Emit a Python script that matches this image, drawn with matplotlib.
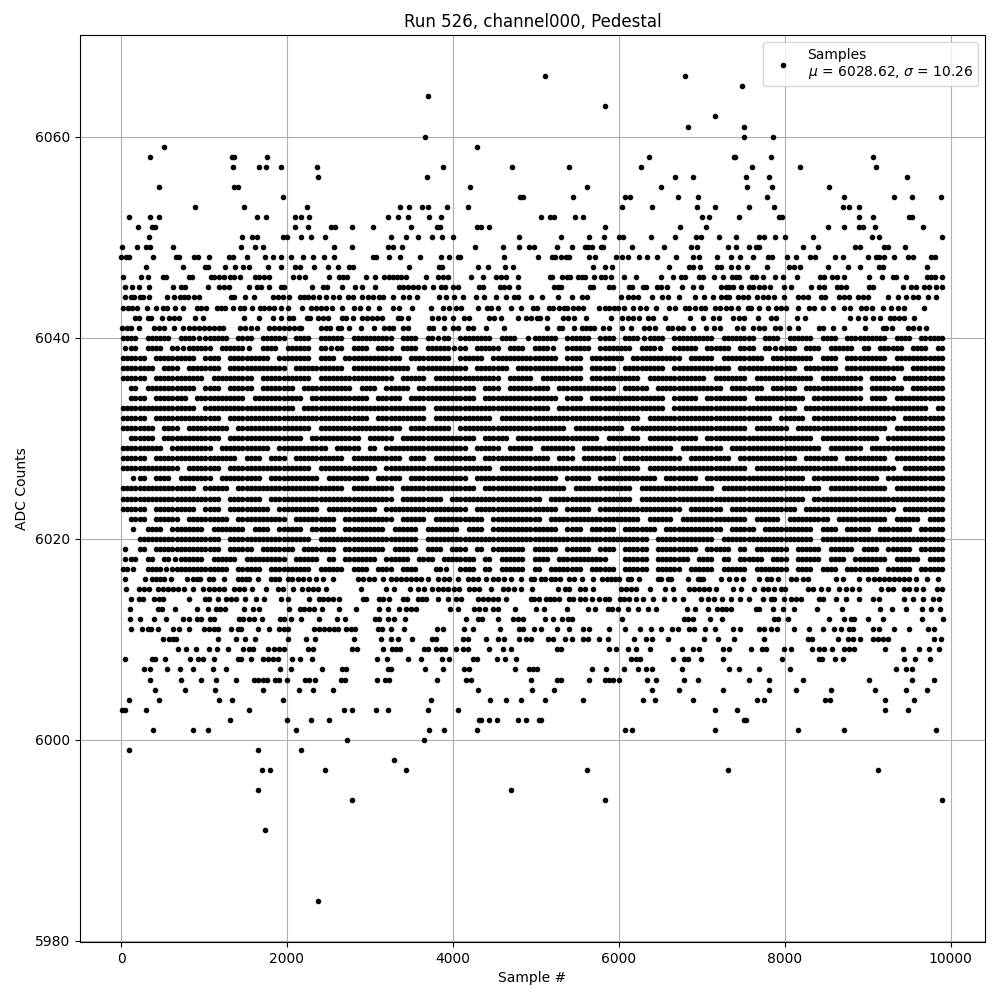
import matplotlib
matplotlib.use("Agg")
import matplotlib.pyplot as plt

# Dense levels: hand-read occupancy over 100 bins across the sample range.
# '#' = busy bin, '+' = single point, '.' = empty.
BIN_WIDTH = 99.2
level_rows = {
    6040: "##.###.##+ ###.##.### .##.###.## ###.##.#+# .####.##.+ ###.###.## .##+##.### ##.####.## .###.##.## ###.##.###",
    6039: "+#.##.#+## #.###+.##. ###.#+#.## .##.##.### +#.###.##. ##+.###.## ##.##+.### .###.##.#+ ##.##.###. #.###.##.#",
    6038: "###.#####. ##.#####.# ###.##.### ####.##### .###.##### ###.##.### #.######.# ##.#####.# ####.##.## ###.######",
    6037: "####.##.## ##.####### .######.## #####.#### ##.####.## ######.### .#####.### ####.##### ##.####.## #####.####",
    6036: "###.###### .#####.### ###.###### ###.###.## ######.### .#####.### ###.###### #.####.### ####.##### .###.#####",
    6035: ".#.######. ##.###.### #.######.# #.###.#### ###.##.### ##.####### .###.##### ###.####.# ##.####### .####.####",
    6034: ".##.####.# #####.#### ##.####### .###.##### ###.###### ###.##.### ######.### .#####.### ###.###### .##.######",
    6033: "#########. ########## #.######## #######.## ########## ##.####### ######.### ########## ##.####### ########.#",
    6032: "###.###### ##.####### ########## .######.## #####.#### ########## ###.###### #########. ###.###### ####.#####",
    6031: "####.##.## ###.###### ###.###### ####.##### .######### ####.##### #.######## ######.### #.######## ###.######",
    6030: ".###.##### ##.####### ##.######. ###.###### ###.###.## ########.# ###.###### .######### ####.##### ##.#######",
    6029: "#####.#### #.######.# #####.###. #.######## ##.###.### .####.#### #######.## ###.###### #####.#### .#########",
    6028: "###.###### ####.##.## .######.## ####.##.## ###.###### ##.##.#### .#######.# ####.##### ##.####.## ###.######",
    6027: "#######.## ##.####### ###.###### #.######## #####.#### ########## ###.###### ######.### ########## ####.#####",
    6026: ".+#.##.### #.#####.## ####.##### .###.##### ##.####### ###.###.## #####.#### .######### ###.###### ##.#######",
    6025: "#########. ###.###### #######.## ###.###### ###.###### ####.##### ##.####### ##.####### #####.#### ###.######",
    6024: "########## ##.####.## ########## ###.#####. ########## #.######## ##.####### ########## ###.###### ##########",
    6023: "###.#####. ##.#####.# ####.##### #.######## ##.####### ###.###.## ########.# ###.###### ##.####### ####.#####",
    6022: ".##.###.## ###.###### .#####.### ###.###.## ####.##### #.######## ###.###.## ######.### .#####.### ###.###.##",
    6021: ".+.##.#### .####.##.# ##.###.### ##.###.### #.##.##### ###.##.### .####.#### ###.###.## ####.##.## #.####.###",
    6020: "..######## ##.####### ###.###### ######.### ########## ########## ####.##### ##.####### ####.##### ##########",
    6019: "+.#.###### ##.###.### #.####.### ##.###.##. ##.#.####. ###.###.## .###.##### .###.#.### #.###.###. ##.###.###",
    6018: "+#.#.#+### .###.##### .###.#.### #.###.##.# ###.#.###. ##.######. .###.####. ##.#.###.# #.###.##.# ###.###.##",
    6017: "#+.##+#### ###.###.## ###.###.## .##.##..#+ .##.#.###. #.####.### .###.###.# ##.###.### #.##.##.## ##.###.###",
}

# Sparse levels, samples: level -> sample numbers
upper_levels = {
    6066: [5115, 6800],
    6065: [7480],
    6064: [3700],
    6063: [5840],
    6062: [7165],
    6061: [6830, 7515],
    6060: [3665, 7515, 7865],
    6059: [520, 4295],
    6058: [350, 1340, 1360, 1760, 6360, 7385, 7405, 7830, 9060],
    6057: [1350, 1665, 1750, 1930, 2365, 3885, 4715, 5400, 6270, 7610, 8180, 9105],
    6056: [2370, 3690, 6680, 6900, 7530, 7815, 9480],
    6055: [460, 1365, 1410, 4210, 5620, 6510, 7550, 7850, 8530],
    6054: [1950, 4815, 4850, 5450, 6070, 6140, 6720, 6950, 7790, 8720, 9320, 9540, 9890],
    6053: [888, 1479, 2238, 3359, 3467, 3624, 3696, 3925, 4178, 6036, 6398, 6940, 7157, 7566, 7868, 8699, 8771, 8900],
    6052: [93, 346, 455, 1636, 1744, 2102, 2166, 2262, 3214, 3335, 3455, 3708, 3853, 5061, 5173, 5225, 5470, 5567,
           7000, 7085, 7446, 7936, 7968, 8892, 9060, 9494, 9534],
    6051: [201, 374, 406, 2102, 2250, 2531, 2580, 2780, 3033, 3491, 3805, 3845, 4295, 4343, 4439,
           5832, 6739, 7052, 8518, 8711, 8900, 8940, 9084, 9663],
    6050: [334, 1455, 1579, 1644, 1949, 1997, 2166, 2286, 2455, 3250, 3431, 3580, 3744, 3865, 3997, 4793,
           5302, 5639, 5820, 6000, 6048, 6386, 6675, 6932, 6992, 7213, 7410, 7695, 7755, 7888, 8000, 8338, 9048, 9133, 9892],
    6049: [9, 189, 302, 350, 623, 1443, 1611, 1708, 2563, 2780, 3214, 3274, 3387, 4267, 4600, 4793, 4913,
           4976, 5253, 5434, 5587, 5627, 5679, 5787, 5808, 6157, 6542, 6868, 6940, 7313, 7410, 7566, 7655, 7695,
           8217, 8398, 8844, 8908, 9201, 9241, 9450],
    6048: [0, 61, 101, 382, 663, 696, 884, 925, 1057, 1298, 1354, 1515, 1732, 1828, 1925, 2045, 2190, 2310, 2443, 2563,
           3033, 3074, 3234, 3359, 3600, 3853, 3949, 4062, 4086, 4616, 5024, 5197, 5237, 5306, 5358, 5406, 5639, 5719,
           5968, 6040, 6109, 6241, 6338, 6458, 6691, 6892, 6964, 7181, 7350, 7462, 7615, 7795, 7848, 8024, 8137, 8305,
           8366, 8611, 8699, 9000, 9101, 9141, 9201, 9322, 9482, 9542, 9763, 9815],
    6047: [298, 744, 1013, 1049, 1250, 1370, 1467, 1539, 1772, 1933, 2093, 2158, 2322, 2491, 2612, 2744, 2792, 3467,
           3829, 3869, 4299, 4423, 4624, 4721, 5687, 5840, 5916, 6611, 6852, 6900, 6980, 7181, 7233, 7350, 7434, 7542,
           7783, 8056, 8117, 8185, 8518, 8759, 8912, 9141, 9189, 9711],
    6046: [21, 238, 322, 503, 543, 816, 856, 1085, 1125, 1186, 1238, 1314, 1366, 1435, 1615, 1668, 1728, 1788, 2069,
           2142, 2214, 2503, 2632, 2672, 2720, 2953, 3062, 3174, 3226, 3274, 3323, 3375, 3435, 3676, 3817, 3877, 3937,
           4218, 4367, 4519, 4580, 4640, 4781, 5165, 5197, 5314, 5374, 5414, 5506, 5559, 5587, 5707, 5787, 5840, 5908,
           6061, 6205, 6506, 6659, 6751, 6804, 6972, 7012, 7153, 7253, 7362, 7414, 7454, 7607, 7655, 7735, 7888, 7976,
           8145, 8426, 8478, 8567, 8627, 8719, 9012, 9173, 9301, 9341, 9461, 9711, 9763, 9815, 9892],
    6045: [45, 133, 213, 334, 623, 724, 772, 1045, 1186, 1246, 1306, 1539, 1636, 1692, 1780, 1933, 1969, 2298, 2431,
           2479, 2660, 2825, 2901, 3062, 3347, 3403, 3463, 3523, 3576, 3656, 3757, 3857, 3909, 3997, 4062, 4311, 4359,
           4568, 4620, 4680, 4785, 5225, 5265, 5306, 5655, 5695, 5888, 5936, 6121, 6161, 6289, 6330, 6458, 6510, 6579,
           6759, 6892, 6992, 7233, 7293, 7334, 7382, 7474, 7575, 7623, 7695, 7755, 7824, 7996, 8077, 8317, 8410, 8478,
           8627, 8679, 8739, 9012, 9060, 9422, 9522, 9582, 9675, 9743, 9824, 9896],
    6044: [45, 121, 161, 229, 270, 342, 551, 643, 712, 764, 808, 884, 937, 1326, 1366, 1499, 1599, 1828, 1889, 1949,
           2029, 2158, 2210, 2258, 2318, 2391, 2471, 2559, 2624, 2732, 2792, 2901, 2973, 3033, 3106, 3154, 3274, 3395,
           3467, 3564, 3829, 3917, 4018, 4126, 4279, 4379, 4519, 4640, 4741, 4781, 4936, 5073, 5265, 5434, 5559, 5615,
           6028, 6109, 6169, 6229, 6398, 6522, 6599, 6731, 6924, 7024, 7133, 7233, 7293, 7334, 7434, 7494, 7555, 7663,
           7735, 7795, 7876, 7988, 8157, 8217, 8277, 8438, 8490, 8659, 8719, 8779, 8880, 8940, 9000, 9241, 9362, 9462,
           9542, 9602, 9723, 9824],
    6043: [29, 81, 133, 189, 310, 422, 511, 551, 655, 744, 912, 965, 1025, 1153, 1206, 1258, 1346, 1435, 1487, 1579,
           1676, 1728, 1788, 1848, 1929, 2009, 2178, 2290, 2351, 2411, 2471, 2543, 2664, 2812, 2881, 2973, 3106, 3274,
           3355, 3508, 3736, 3877, 3949, 4038, 4098, 4299, 4407, 4459, 4540, 4700, 4821, 4964, 5012, 5157, 5213, 5277,
           5334, 5374, 5446, 5506, 5567, 5767, 5828, 5888, 5948, 5988, 6069, 6169, 6257, 6330, 6450, 6611, 6683, 6804,
           6852, 6924, 6992, 7044, 7165, 7221, 7293, 7354, 7434, 7555, 7595, 7695, 7795, 7896, 7956, 8016, 8157, 8297,
           8358, 8458, 8579, 8719, 8787, 8920, 8980, 9052, 9181, 9281, 9362, 9442, 9675],
    6042: [173, 214, 322, 362, 495, 583, 643, 704, 896, 985, 1479, 1660, 1836, 1929, 2029, 2077, 2238, 2278, 2371,
           2431, 2491, 2660, 2712, 2792, 2901, 2961, 3025, 3082, 3146, 3335, 3375, 3455, 3749, 3817, 3897, 3997, 4130,
           4191, 4439, 4499, 4580, 4781, 4882, 4936, 5012, 5052, 5133, 5326, 5386, 5466, 5599, 5908, 6040, 6109, 6177,
           6249, 6350, 6410, 6563, 6860, 7012, 7141, 7205, 7382, 7454, 7514, 7675, 7836, 7896, 8145, 8249, 8787, 8880,
           8973, 9060, 9149, 9269, 9321, 9382, 9442, 9563],
    6041: [13, 69, 121, 221, 402, 463, 523, 643, 752, 824, 884, 945, 1005, 1065, 1125, 1186, 1234, 1435, 1499, 1567,
           1636, 1788, 1848, 1909, 1969, 2029, 2089, 2150, 2170, 2411, 2471, 2519, 2612, 2652, 2752, 2893, 3054, 3174,
           3226, 3282, 3395, 3455, 3716, 3757, 3897, 3997, 4058, 4179, 4239, 4399, 4620, 5133, 5277, 5318, 5466, 5559,
           5607, 5655, 5707, 5815, 5880, 6040, 6149, 6310, 6362, 6442, 6591, 6643, 6711, 6779, 6892, 7052, 7153, 7221,
           7422, 7494, 7623, 7695, 7755, 7888, 7944, 8056, 8157, 8418, 8458, 8579, 8719, 8973, 9181, 9221, 9293, 9482,
           9542, 9623, 9703],
}

lower_levels = {
    6016: [45, 294, 374, 422, 471, 523, 603, 792, 864, 912, 953, 1057, 1105, 1246, 1407, 1459, 1507, 1547, 1648, 1808,
           1860, 1909, 2009, 2061, 2130, 2190, 2262, 2351, 2431, 2559, 2853, 2913, 2993, 3054, 3154, 3254, 3315, 3375,
           3435, 3496, 3556, 3616, 3696, 3817, 3897, 3957, 4058, 4179, 4239, 4299, 4399, 4480, 4540, 4620, 4700, 4821,
           4944, 4984, 5065, 5105, 5185, 5237, 5293, 5398, 5466, 5559, 5695, 5799, 5856, 5908, 5960, 6000, 6109, 6149,
           6249, 6470, 6510, 6591, 6631, 6832, 6952, 6980, 7012, 7233, 7334, 7414, 7494, 7695, 7783, 7836, 7916, 8077,
           8137, 8217, 8277, 8618, 8699, 8900, 9000, 9081, 9141, 9201, 9261, 9322, 9382, 9442, 9502, 9583, 9711, 9844],
    6015: [61, 213, 282, 334, 442, 503, 563, 623, 683, 764, 864, 993, 1065, 1125, 1186, 1246, 1366, 1427, 1487, 1579,
           1748, 1889, 1949, 2069, 2182, 2250, 2310, 2371, 2471, 2893, 3194, 3294, 3483, 3576, 3656, 3749, 3817, 3877,
           3937, 4018, 4078, 4199, 4259, 4319, 4459, 4600, 4660, 4741, 4821, 4956, 5265, 5346, 5406, 5534, 5587, 5687,
           6028, 6089, 6149, 6209, 6378, 6563, 6659, 6844, 6912, 6972, 7032, 7093, 7173, 7382, 7474, 7635, 7735, 7796,
           7876, 7956, 8008, 8277, 8338, 8438, 8518, 8659, 8739, 8811, 8900, 9161, 9241, 9301, 9442, 9502, 9583, 9663,
           9832, 9896],
    6014: [121, 214, 270, 402, 455, 503, 824, 1017, 1057, 1166, 1266, 1326, 1386, 1499, 1628, 1728, 1929, 2009, 2262,
           2391, 2439, 2491, 2551, 2624, 2913, 2953, 3106, 3162, 3234, 3395, 3443, 3576, 3628, 3676, 3817, 3937, 4038,
           4098, 4299, 4359, 4419, 4480, 4540, 4640, 4944, 4984, 5044, 5125, 5165, 5225, 5285, 5406, 5446, 5534, 5587,
           5679, 5767, 5828, 5888, 6016, 6069, 6129, 6209, 6289, 6410, 6542, 6671, 6771, 6992, 7073, 7153, 7245, 7354,
           7462, 7575, 7735, 7836, 7876, 7988, 8077, 8137, 8197, 8410, 8458, 8619, 8739, 8892, 9060, 9141, 9442, 9550,
           9663, 9784, 9856],
    6013: [109, 442, 495, 647, 912, 1049, 1145, 1194, 1258, 1479, 1587, 1668, 2021, 2158, 2210, 2270, 2331, 2423, 2632,
           2833, 3106, 3218, 3347, 3435, 3496, 3556, 3965, 4058, 4259, 4319, 4391, 4480, 4540, 4753, 5004, 5093, 5374,
           5627, 5719, 5868, 5916, 5988, 6109, 6237, 6350, 6450, 6828, 6924, 7073, 7181, 7245, 7293, 7354, 7655, 7695,
           7856, 7976, 8117, 8386, 8691, 9153, 9289, 9462, 9655, 9763, 9872],
    6012: [109, 230, 398, 543, 752, 824, 912, 965, 1077, 1125, 1419, 1475, 1539, 1599, 1700, 1917, 1969, 2049, 2166,
           2383, 2600, 2704, 3058, 3106, 3214, 3294, 3419, 4158, 4299, 4351, 4540, 4721, 4781, 4841, 5105, 5205, 5314,
           5386, 5438, 6040, 6791, 6832, 6900, 7101, 7241, 7868, 7916, 8036, 8530, 8711, 8799, 8840, 9004, 9181, 9651, 9904],
    6011: [121, 254, 322, 362, 447, 623, 696, 824, 1005, 1065, 1125, 1166, 1326, 1407, 1447, 1656, 1780, 1909, 1969,
           2009, 2331, 2391, 2451, 2511, 2572, 2612, 2712, 2772, 2825, 3094, 3146, 3254, 3407, 3805, 3877, 4130, 4239,
           4568, 4793, 4841, 4984, 5065, 5253, 5394, 5567, 5647, 5880, 6081, 6253, 6386, 6510, 6639, 6711, 6852, 6912,
           7044, 7157, 7374, 7462, 7695, 7755, 7836, 7904, 8117, 8297, 8466, 8599, 8679, 8779, 8828, 9060, 9141, 9313,
           9494, 9723, 9804],
    6010: [511, 575, 623, 663, 1166, 1386, 1491, 1611, 2009, 2230, 2335, 2809, 3134, 3254, 3335, 3504, 3749, 3797, 4118,
           4179, 4399, 4540, 4620, 4801, 4882, 4936, 5145, 5205, 5346, 5434, 5567, 5627, 5767, 5868, 6181, 6330, 6398,
           6591, 7024, 7193, 7386, 7755, 8277, 8330, 8639, 8759, 8820, 8908, 9060, 9121, 9181, 9241, 9804, 9884],
    6009: [683, 784, 904, 1057, 1153, 1286, 1467, 1547, 1595, 1768, 1848, 1909, 1969, 2250, 2310, 2784, 2841, 3162, 3267,
           3315, 3363, 3656, 3696, 3797, 3857, 3909, 4038, 4118, 4179, 4431, 4600, 4700, 5253, 5306, 5888, 5968, 6117,
           6209, 6374, 6759, 6892, 6964, 7253, 7334, 7595, 7723, 7775, 7996, 8077, 8326, 8418, 8478, 8567, 8719, 8779,
           8840, 9205, 9430, 9615, 9743, 9864],
    6008: [45, 374, 414, 531, 836, 925, 985, 1121, 1407, 1447, 1567, 1708, 1768, 1828, 1889, 2061, 2158, 2298, 3082,
           3202, 3455, 3616, 3869, 3949, 4239, 4287, 4528, 4628, 4761, 6149, 6209, 6257, 6651, 6791, 6832, 6988, 7253,
           7968, 8410, 8450, 8611, 8699, 9434, 9571, 9747],
    6007: [278, 350, 551, 708, 864, 1105, 1262, 1917, 2045, 2419, 2660, 2712, 3214, 3254, 3660, 3877, 4138, 4191, 4745,
           4913, 4964, 5012, 5675, 5848, 6061, 6229, 6330, 6398, 6759, 7325, 7446, 7695, 8064, 9342, 9462, 9530],
    6006: [350, 720, 961, 1141, 1386, 1607, 1648, 1708, 1756, 1861, 1901, 1997, 2222, 2262, 2335, 2652, 2704, 3082, 3186,
           3234, 3805, 4158, 4218, 4944, 5253, 5306, 5639, 5840, 5888, 5936, 6000, 6338, 6450, 6791, 6952, 7575, 7808,
           8217, 9020, 9530, 9804],
    6005: [410, 768, 1137, 1708, 2142, 2310, 2551, 4299, 4956, 5225, 6398, 6731, 7253, 7808, 8137, 8559, 9084, 9462, 9711],
    6004: [95, 460, 1180, 1340, 1950, 3740, 4450, 4645, 4825, 5115, 5570, 6295, 6440, 6900, 7670, 7745,
           8490, 8550, 9205, 9565],
    6003: [10, 50, 300, 1545, 2690, 2785, 3075, 3220, 3700, 4065, 7165, 7430, 9215, 9490],
    6002: [1315, 2000, 2290, 2510, 4310, 4340, 4440, 4530, 4790, 4885, 5040, 5065, 7510, 7530],
    6001: [385, 870, 1050, 2110, 3715, 3895, 4295, 6080, 6165, 7165, 8155, 8720, 9830],
    6000: [2725, 3655],
    5999: [95, 1650, 2170],
    5998: [3290],
    5997: [1700, 1795, 2460, 3435, 5620, 7320, 9120],
    5995: [1650, 4705],
    5994: [2785, 5840, 9900],
    5991: [1735],
    5984: [2375],
}

title_text = "Run 526, channel000, Pedestal"
legend_text = "Samples\n$\\mu$ = 6028.62, $\\sigma$ = 10.26"

samples, counts = [], []
for level, row in level_rows.items():
    for i, ch in enumerate(row.replace(" ", "")):
        if ch == "#":
            offsets = (0.25, 0.75)
        elif ch == "+":
            offsets = (0.5,)
        else:
            offsets = ()
        for off in offsets:
            samples.append((i + off) * BIN_WIDTH)
            counts.append(level)
for table in (upper_levels, lower_levels):
    for level, xs in table.items():
        for x in xs:
            samples.append(x)
            counts.append(level)

fig, ax = plt.subplots(figsize=(10, 10), dpi=100)
ax.plot(samples, counts, ".", color="black", label=legend_text)
ax.set_xlim(-495, 10415)
ax.set_ylim(5979.9, 6070.1)
ax.set_title(title_text)
ax.set_xlabel("Sample #")
ax.set_ylabel("ADC Counts")
ax.grid(True)
ax.legend(loc="upper right")
fig.subplots_adjust(left=0.08, right=0.985, top=0.965, bottom=0.058)
fig.savefig("out.png", dpi=100)
